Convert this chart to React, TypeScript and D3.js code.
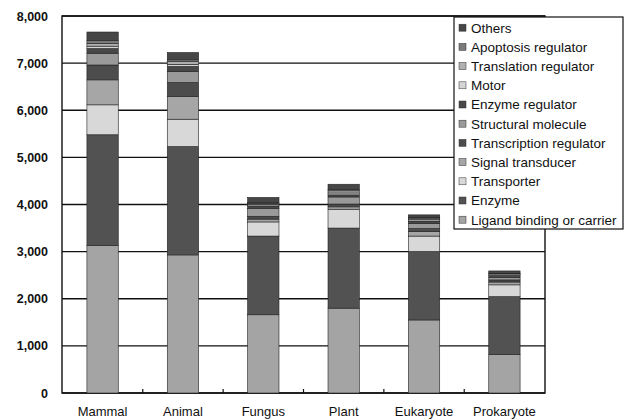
import React, { useEffect, useRef } from "react";
import * as d3 from "d3";

const categories = ["Mammal", "Animal", "Fungus", "Plant", "Eukaryote", "Prokaryote"];

// stacked bottom -> top
const seriesNames = [
  "Ligand binding or carrier",
  "Enzyme",
  "Transporter",
  "Signal transducer",
  "Transcription regulator",
  "Structural molecule",
  "Enzyme regulator",
  "Motor",
  "Translation regulator",
  "Apoptosis regulator",
  "Others",
];

const ligand = [3130, 2930, 1660, 1800, 1550, 820];
const enzyme = [2350, 2300, 1670, 1700, 1450, 1225];
const transporter = [635, 580, 300, 400, 330, 250];
const signalTransducer = [530, 480, 60, 50, 100, 60];
const transcription = [315, 300, 60, 60, 60, 45];
const structural = [250, 235, 170, 150, 110, 55];
const enzymeRegulator = [100, 105, 50, 45, 50, 35];
const motor = [50, 45, 30, 40, 30, 15];
const translation = [60, 55, 25, 45, 30, 25];
const apoptosis = [60, 40, 15, 30, 20, 5];
const others = [180, 155, 110, 110, 50, 55];

const yTicks = [0, 1000, 2000, 3000, 4000, 5000, 6000, 7000, 8000];

const fills = [
  "#a4a4a4", "#525252", "#d8d8d8", "#a6a6a6", "#4c4c4c", "#9a9a9a",
  "#484848", "#d4d4d4", "#b0b0b0", "#7a7a7a", "#464646",
];

export default function App() {
  const ref = useRef<SVGSVGElement | null>(null);

  useEffect(() => {
    const width = 628, height = 420;
    const m = { left: 62, right: 83, top: 16, bottom: 27 };
    const svg = d3.select(ref.current);
    svg.selectAll("*").remove();
    svg.attr("width", width).attr("height", height);

    const allSeries = [ligand, enzyme, transporter, signalTransducer, transcription, structural,
      enzymeRegulator, motor, translation, apoptosis, others];
    const rows = categories.map((c, i) => {
      const r: any = { cat: c };
      seriesNames.forEach((s, k) => (r[s] = allSeries[k][i]));
      return r;
    });
    const stacked = d3.stack<any>().keys(seriesNames)(rows);

    const x = d3.scaleBand().domain(categories).range([m.left, width - m.right]).paddingInner(0.61).paddingOuter(0.31);
    const y = d3.scaleLinear().domain([0, 8000]).range([height - m.bottom, m.top]);
    const color = d3.scaleOrdinal<string>().domain(seriesNames).range(fills);

    svg.append("rect").attr("width", width).attr("height", height).attr("fill", "#fff");

    // gridlines
    svg.append("g").selectAll("line").data(yTicks).join("line")
      .attr("x1", m.left).attr("x2", width - m.right)
      .attr("y1", (d) => y(d)).attr("y2", (d) => y(d))
      .attr("stroke", "#111").attr("stroke-width", 1.4);

    // frame
    svg.append("rect").attr("x", m.left).attr("y", m.top)
      .attr("width", width - m.right - m.left).attr("height", y(0) - m.top)
      .attr("fill", "none").attr("stroke", "#111").attr("stroke-width", 1.4);

    // x ticks at category boundaries
    const step = x.step();
    svg.append("g").selectAll("line").data(categories.slice(1)).join("line")
      .attr("x1", (d) => (x(d) as number) - x.paddingInner() * step / 2)
      .attr("x2", (d) => (x(d) as number) - x.paddingInner() * step / 2)
      .attr("y1", y(0)).attr("y2", y(0) - 4)
      .attr("stroke", "#111").attr("stroke-width", 1.2);

    // bars
    svg.append("g").selectAll("g").data(stacked).join("g")
      .attr("fill", (d) => color(d.key))
      .selectAll("rect").data((d) => d).join("rect")
      .attr("x", (d) => x(d.data.cat) as number)
      .attr("width", x.bandwidth())
      .attr("y", (d) => y(d[1]))
      .attr("height", (d) => y(d[0]) - y(d[1]))
      .attr("stroke", "#222").attr("stroke-width", 0.6);

    // y labels
    svg.append("g").selectAll("text").data(yTicks).join("text")
      .attr("x", 48).attr("y", (d) => y(d) + 4.5)
      .attr("text-anchor", "end")
      .attr("font-family", "Liberation Sans, Arial, sans-serif")
      .attr("font-weight", "bold").attr("font-size", 12.5).attr("fill", "#111")
      .text((d) => d3.format(",")(d));

    // x labels
    svg.append("g").selectAll("text").data(categories).join("text")
      .attr("x", (d) => (x(d) as number) + x.bandwidth() / 2)
      .attr("y", 416)
      .attr("text-anchor", "middle")
      .attr("font-family", "Liberation Sans, Arial, sans-serif")
      .attr("font-size", 13).attr("fill", "#111")
      .text((d) => d);

    // legend
    const lg = svg.append("g");
    lg.append("rect").attr("x", 454).attr("y", 17).attr("width", 169).attr("height", 212)
      .attr("fill", "#fff").attr("stroke", "#111").attr("stroke-width", 1.2);
    const legendOrder = seriesNames.slice().reverse();
    const item = lg.selectAll("g").data(legendOrder).join("g")
      .attr("transform", (d, i) => `translate(459, ${27.7 + i * 19.2})`);
    item.append("rect").attr("x", 0).attr("y", -3.5).attr("width", 7).attr("height", 7)
      .attr("fill", (d) => color(d)).attr("stroke", "#333").attr("stroke-width", 0.5);
    item.append("text").attr("x", 12).attr("y", 4.8)
      .attr("font-family", "Liberation Sans, Arial, sans-serif")
      .attr("font-size", 13.5).attr("fill", "#111")
      .text((d) => d);
  }, []);

  return <svg ref={ref} style={{ position: "absolute", left: 0, top: 0 }} />;
}
